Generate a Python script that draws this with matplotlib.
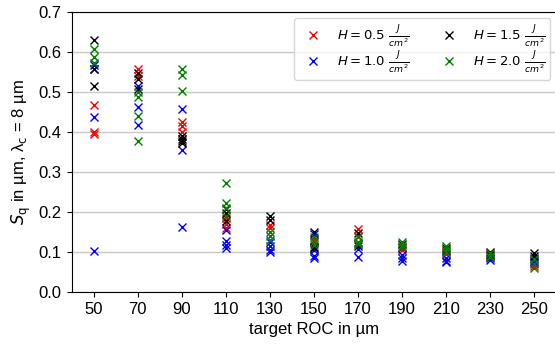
import matplotlib.pyplot as plt

plt.rcParams['font.family'] = ['Liberation Sans', 'DejaVu Sans']

roc = [50, 70, 90, 110, 130, 150, 170, 190, 210, 230, 250]

# Sq values per target ROC for each fluence H
sq_h05 = [[0.467, 0.40, 0.395], [0.557, 0.54], [0.425, 0.415, 0.40],
          [0.185, 0.17, 0.16], [0.168, 0.16], [0.13, 0.125],
          [0.158, 0.14], [0.11, 0.105], [0.10, 0.095], [0.095, 0.09],
          [0.075, 0.065]]
sq_h10 = [[0.567, 0.558, 0.437, 0.103], [0.515, 0.462, 0.418],
          [0.458, 0.354, 0.163], [0.155, 0.128, 0.117, 0.11],
          [0.125, 0.115, 0.105, 0.10], [0.145, 0.105, 0.09, 0.085],
          [0.12, 0.108, 0.088], [0.092, 0.085, 0.078], [0.085, 0.078, 0.075],
          [0.085, 0.08], [0.085, 0.078, 0.072]]
sq_h15 = [[0.63, 0.557, 0.515], [0.546, 0.533, 0.508],
          [0.39, 0.383, 0.377, 0.372], [0.206, 0.196, 0.178], [0.19, 0.18],
          [0.15, 0.113, 0.11], [0.148, 0.115], [0.12, 0.112], [0.11, 0.105],
          [0.10, 0.093], [0.096, 0.09]]
sq_h20 = [[0.608, 0.586, 0.573], [0.50, 0.488, 0.44, 0.378],
          [0.556, 0.542, 0.502], [0.272, 0.222, 0.21, 0.19],
          [0.15, 0.14, 0.13], [0.138, 0.125, 0.118], [0.136, 0.125, 0.12],
          [0.125, 0.118, 0.112], [0.115, 0.108, 0.10], [0.097, 0.09, 0.087],
          [0.082, 0.07, 0.06]]

series = [(sq_h05, 'r', r'$H = 0.5\ \frac{J}{cm^2}$'),
          (sq_h10, 'b', r'$H = 1.0\ \frac{J}{cm^2}$'),
          (sq_h15, 'k', r'$H = 1.5\ \frac{J}{cm^2}$'),
          (sq_h20, 'g', r'$H = 2.0\ \frac{J}{cm^2}$')]

fig = plt.figure(figsize=(5.55, 3.47), dpi=100)
ax = fig.add_axes([0.129, 0.159, 0.873, 0.807])

for data, color, label in series:
    xs = [r for r, vals in zip(roc, data) for _ in vals]
    ys = [v for vals in data for v in vals]
    ax.plot(xs, ys, linestyle='none', marker='x', color=color, label=label)

ax.set_xlim(40, 260)
ax.set_ylim(0, 0.7)
ax.set_xticks(roc)
ax.set_yticks([0.0, 0.1, 0.2, 0.3, 0.4, 0.5, 0.6, 0.7])
ax.tick_params(labelsize=12)
ax.yaxis.grid(True, color='#c8c8c8', linewidth=1)
ax.set_axisbelow(True)

ax.set_xlabel('target ROC in µm', fontsize=12)
ax.set_ylabel(r'$S_\mathrm{q}$ in µm, λ$_\mathrm{c}$ = 8 µm', fontsize=12)

ax.legend(ncol=2, loc='upper right', bbox_to_anchor=(0.988, 0.978),
          borderaxespad=0, numpoints=1, fontsize=9.5, labelspacing=0.0)

fig.savefig('out.png', dpi=100)
